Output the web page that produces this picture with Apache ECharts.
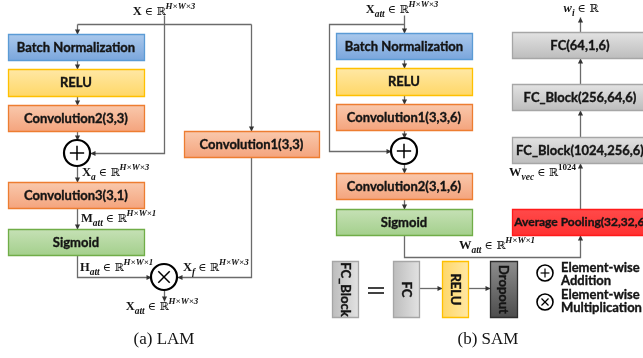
<!DOCTYPE html>
<html><head><meta charset="utf-8">
<script src="https://cdn.jsdelivr.net/npm/echarts@6/dist/echarts.min.js"></script>
<style>html,body{margin:0;padding:0;background:#fff}#c{width:643px;height:358px}</style>
</head><body><div id="c"></div>
<script>
// ---- content ----
const boxLabels = ['Batch Normalization','RELU','Convolution2(3,3)','Convolution3(3,1)','Sigmoid','Convolution1(3,3)',
  'Batch Normalization','RELU','Convolution1(3,3,6)','Convolution2(3,1,6)','Sigmoid','Average Pooling(32,32,6)',
  'FC_Block(1024,256,6)','FC_Block(256,64,6)','FC(64,1,6)','FC_Block','FC','RELU','Dropout'];
const boxKinds = ['blue','yellow','orange','orange','green','orange',
  'blue','yellow','orange','orange','green','red','gray','gray','gray','gray','gray','yellow','dark'];
const boxRotated = [0,0,0,0,0,0, 0,0,0,0,0,0,0,0,0, 1,1,1,1];
const boxNarrow = [0,0,0,0,0,0, 0,0,0,0,0,1,0,0,0, 0,0,0,0];
// box extents in diagram units [x0,y0,x1,y1]
const boxExtents = [[8,34,144,60],[8,69,144,96],[8,105,144,131],[8,182,144,208],[8,229,144,255],[184,131,319,157],
  [336,33,472,59],[336,68,472,95],[336,104,472,130],[336,173,472,199],[336,209,472,235],[512,209,650,235],
  [512,137,648,163],[512,84,648,110],[512,32,648,58],[332,261,358,317],[393,261,419,317],[442,261,468,317],[490,261,517,317]];

// connectors: list of points, flag = arrow at end
const connectors = [
  [[[164,15],[164,153],[90,153]],1],
  [[[77,24],[251,24]],0],
  [[[77,24],[77,34]],1],
  [[[251,24],[251,131]],1],
  [[[77,60],[77,69]],1],
  [[[77,96],[77,105]],1],
  [[[77,131],[77,140]],1],
  [[[77,166],[77,182]],1],
  [[[77,208],[77,229]],1],
  [[[77,255],[77,277],[151,277]],1],
  [[[251,157],[251,277],[177,277]],1],
  [[[164,290],[164,301]],1],
  [[[404,15],[404,33]],1],
  [[[404,24],[329,24],[329,151],[391,151]],1],
  [[[404,59],[404,68]],1],
  [[[404,95],[404,104]],1],
  [[[404,130],[404,138]],1],
  [[[404,164],[404,173]],1],
  [[[404,199],[404,209]],1],
  [[[404,235],[404,257],[580,257],[580,235]],1],
  [[[580,209],[580,163]],1],
  [[[580,137],[580,110]],1],
  [[[580,84],[580,58]],1],
  [[[580,32],[580,17]],1],
  [[[419,288],[442,288]],1],
  [[[468,288],[490,288]],1]
];
const equalsBars = [[[368,288],[384,288]],[[368,293],[384,293]]];

// operator circles [cx, cy, r, kind]
const operators = [[77,153,13,'plus'],[164,277,13,'times'],[404,151,13,'plus'],[545,273,8,'plus'],[545,302,8,'times']];

const mathTexts = [
  '{b|X} {r|∈ ℝ}{sp|H×W×3}',
  '{b|X}{sb|a} {r|∈ ℝ}{sp|H×W×3}',
  '{b|M}{sb|att} {r|∈ ℝ}{sp|H×W×1}',
  '{b|H}{sb|att} {r|∈ ℝ}{sp|H×W×1}',
  '{b|X}{sb|f} {r|∈ ℝ}{sp|H×W×3}',
  '{b|X}{sb|att} {r|∈ ℝ}{sp|H×W×3}',
  '{b|X}{sb|att} {r|∈ ℝ}{sp|H×W×3}',
  '{b|W}{sb|vec} {r|∈ ℝ}{spn|1024}',
  '{b|W}{sb|att} {r|∈ ℝ}{sp|H×W×1}',
  '{bi|w}{sb|i} {r|∈ ℝ}'
];
const mathAnchors = [[164,12,'center'],[82,173,'left'],[81,219,'left'],[80,268,'left'],[183,268,'left'],[162,307,'center'],
  [402,10,'center'],[576,173,'right'],[497,246,'center'],[581,9,'center']];

const captions = ['(a) LAM','(b) SAM'];
const captionAnchors = [[164,340],[488,340]];
const legendTexts = ['Element-wise','Addition','Element-wise','Multiplication'];
const legendAnchors = [[561,268],[561,281],[561,295],[561,308]];

// ---- styles ----
const palette = {
  blue:  {top:'#abc9ec', bot:'#79a5dc', stroke:'#5b9bd5'},
  yellow:{top:'#ffe8a6', bot:'#ffd766', stroke:'#ffc000'},
  orange:{top:'#f9c9ad', bot:'#f4a37c', stroke:'#ed7d31'},
  green: {top:'#c6e1b6', bot:'#a3cf8b', stroke:'#70ad47'},
  gray:  {top:'#e3e3e3', bot:'#bcbcbc', stroke:'#a6a6a6'},
  red:   {top:'#ff4a4a', bot:'#ff3030', stroke:'#ff1a1a'},
  dark:  {top:'#8e8e8e', bot:'#4c4c4c', stroke:'#2e2e2e'}
};
const LINE = '#6b6b6b';
const INK = '#141414';
const mathRich = {
  b:  {fontFamily:'Liberation Serif', fontWeight:'bold', fontSize:12.5, lineHeight:20, verticalAlign:'middle', color:INK},
  bi: {fontFamily:'Liberation Serif', fontWeight:'bold', fontStyle:'italic', fontSize:12.5, lineHeight:20, verticalAlign:'middle', color:INK},
  r:  {fontFamily:'DejaVu Serif', fontSize:11, lineHeight:20, verticalAlign:'middle', color:INK},
  sb: {fontFamily:'Liberation Serif', fontWeight:'bold', fontStyle:'italic', fontSize:9.5, lineHeight:14, verticalAlign:'bottom', color:INK},
  sp: {fontFamily:'Liberation Serif', fontWeight:'bold', fontStyle:'italic', fontSize:9, lineHeight:11, verticalAlign:'top', color:INK},
  spn:{fontFamily:'Liberation Serif', fontWeight:'bold', fontSize:9, lineHeight:11, verticalAlign:'top', color:INK}
};

function idx(arr){ return arr.map((_, i) => [i]); }

function renderBox(params, api){
  const i = params.dataIndex, e = boxExtents[i];
  const p0 = api.coord([e[0], e[1]]), p1 = api.coord([e[2], e[3]]);
  const x = Math.min(p0[0], p1[0]), y = Math.min(p0[1], p1[1]);
  const w = Math.abs(p1[0]-p0[0]), h = Math.abs(p1[1]-p0[1]);
  const k = palette[boxKinds[i]];
  const rot = boxRotated[i];
  const grad = rot && boxKinds[i] !== 'dark'
    ? new echarts.graphic.LinearGradient(0,0,1,0,[{offset:0,color:k.bot},{offset:1,color:k.top}])
    : new echarts.graphic.LinearGradient(0,0,0,1,[{offset:0,color:k.top},{offset:1,color:k.bot}]);
  const size = boxNarrow[i] ? 12 : 13;
  return {type:'group', children:[
    {type:'rect', shape:{x:x+0.5, y:y+0.5, width:w, height:h}, style:{fill:grad, stroke:k.stroke, lineWidth:1.3}},
    {type:'text', x:x+w/2, y:y+h/2+0.5, rotation: rot ? -Math.PI/2 : 0,
      style:{text:boxLabels[i], font:'bold '+size+'px Lato', fill:INK, stroke:INK, lineWidth:0.35, align:'center', verticalAlign:'middle'}}
  ]};
}

function renderConnector(params, api){
  const c = connectors[params.dataIndex];
  const pts = c[0].map(p => api.coord(p));
  const kids = [{type:'polyline', shape:{points:pts.map(p=>[p[0]+0.5,p[1]+0.5])}, style:{stroke:LINE, lineWidth:1.3, fill:null}}];
  if (c[1]) {
    const a = pts[pts.length-2], b = pts[pts.length-1];
    const dx = b[0]-a[0], dy = b[1]-a[1], L = Math.hypot(dx,dy);
    const ux = dx/L, uy = dy/L, len = 5, hw = 2.6;
    const bx = b[0]+0.5, by = b[1]+0.5;
    kids.push({type:'polygon', shape:{points:[[bx,by],[bx-ux*len-uy*hw, by-uy*len+ux*hw],[bx-ux*len+uy*hw, by-uy*len-ux*hw]]},
      style:{fill:'#333'}});
  }
  return {type:'group', children:kids};
}

function renderEquals(params, api){
  const pts = equalsBars[params.dataIndex].map(p => api.coord(p));
  return {type:'polyline', shape:{points:pts}, style:{stroke:'#111', lineWidth:1.6, fill:null}};
}

function renderOperator(params, api){
  const o = operators[params.dataIndex];
  const c = api.coord([o[0], o[1]]);
  const r = api.coord([o[0]+o[2], o[1]])[0] - c[0];
  const big = o[2] > 10;
  const arm = r*0.55;
  const lw = big ? 1.5 : 1.2;
  const kids = [{type:'circle', shape:{cx:c[0], cy:c[1], r:r}, style:{fill:'#fff', stroke:'#000', lineWidth: big?2.2:1.6}}];
  if (o[3] === 'plus') {
    kids.push({type:'line', shape:{x1:c[0]-arm, y1:c[1], x2:c[0]+arm, y2:c[1]}, style:{stroke:'#000', lineWidth:lw}});
    kids.push({type:'line', shape:{x1:c[0], y1:c[1]-arm, x2:c[0], y2:c[1]+arm}, style:{stroke:'#000', lineWidth:lw}});
  } else {
    const d = arm*0.8;
    kids.push({type:'line', shape:{x1:c[0]-d, y1:c[1]-d, x2:c[0]+d, y2:c[1]+d}, style:{stroke:'#000', lineWidth:lw}});
    kids.push({type:'line', shape:{x1:c[0]-d, y1:c[1]+d, x2:c[0]+d, y2:c[1]-d}, style:{stroke:'#000', lineWidth:lw}});
  }
  return {type:'group', children:kids};
}

function renderMath(params, api){
  const a = mathAnchors[params.dataIndex];
  const p = api.coord([a[0], a[1]]);
  return {type:'text', x:p[0], y:p[1], style:{text:mathTexts[params.dataIndex], rich:mathRich, align:a[2], verticalAlign:'middle',
    fontFamily:'Liberation Serif', fontSize:12, fill:INK}};
}

function renderCaption(params, api){
  const a = captionAnchors[params.dataIndex];
  const p = api.coord(a);
  return {type:'text', x:p[0], y:p[1], style:{text:captions[params.dataIndex], font:'17px "Liberation Serif"', fill:INK, align:'center', verticalAlign:'middle'}};
}

function renderLegend(params, api){
  const a = legendAnchors[params.dataIndex];
  const p = api.coord(a);
  return {type:'text', x:p[0], y:p[1], style:{text:legendTexts[params.dataIndex], font:'bold 13px Lato', fill:INK, stroke:INK, lineWidth:0.35, align:'left', verticalAlign:'middle'}};
}

const chart = echarts.init(document.getElementById('c'), null, {renderer:'canvas'});
chart.setOption({
  animation:false,
  backgroundColor:'#fff',
  grid:{left:0, right:0, top:0, bottom:0},
  xAxis:{type:'value', min:0, max:643, show:false},
  yAxis:{type:'value', min:0, max:358, inverse:true, show:false},
  series:[
    {type:'custom', renderItem:renderConnector, data:idx(connectors), clip:false, z:1},
    {type:'custom', renderItem:renderEquals, data:idx(equalsBars), clip:false, z:1},
    {type:'custom', renderItem:renderBox, data:idx(boxExtents), clip:false, z:2},
    {type:'custom', renderItem:renderOperator, data:idx(operators), clip:false, z:3},
    {type:'custom', renderItem:renderMath, data:idx(mathTexts), clip:false, z:4},
    {type:'custom', renderItem:renderCaption, data:idx(captions), clip:false, z:4},
    {type:'custom', renderItem:renderLegend, data:idx(legendTexts), clip:false, z:4}
  ]
});
</script></body></html>
